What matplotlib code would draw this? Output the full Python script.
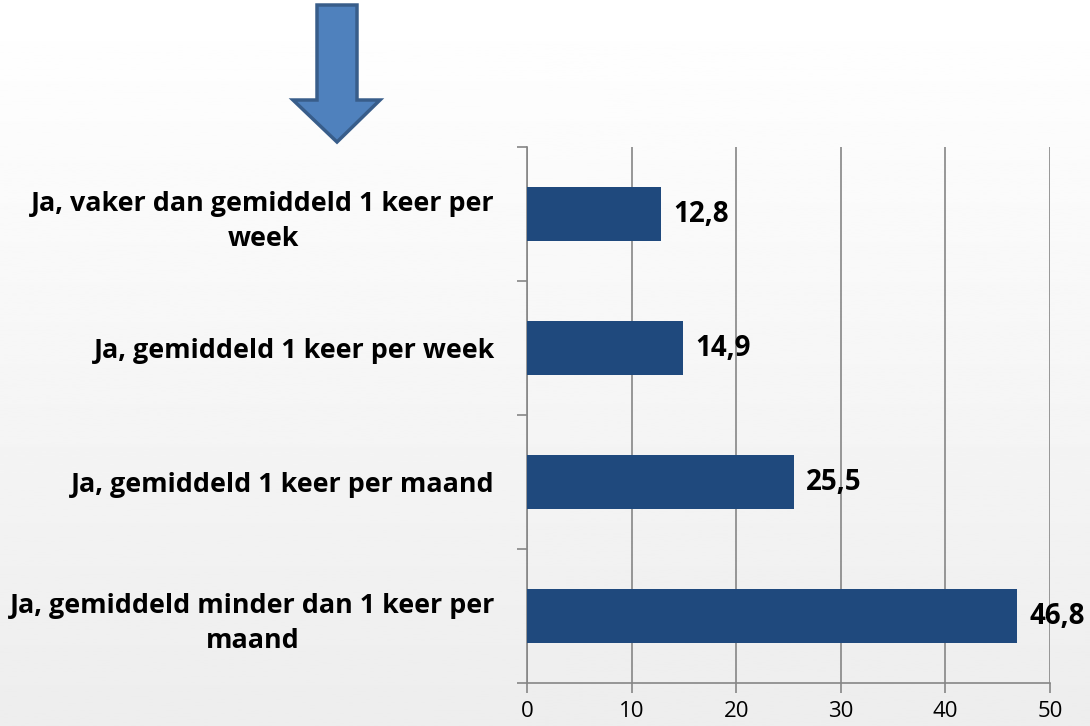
import matplotlib.pyplot as plt
import numpy as np
from matplotlib.patches import Polygon

# data (top to bottom as shown)
categories = ['Ja, vaker dan gemiddeld 1 keer per\nweek',
              'Ja, gemiddeld 1 keer per week',
              'Ja, gemiddeld 1 keer per maand',
              'Ja, gemiddeld minder dan 1 keer per\nmaand']
values = [12.8, 14.9, 25.5, 46.8]
value_labels = ['12,8', '14,9', '25,5', '46,8']
x_ticks = [0, 10, 20, 30, 40, 50]

plt.rcParams['font.family'] = ['Open Sans', 'DejaVu Sans']

fig = plt.figure(figsize=(10.9, 7.26), dpi=100)

# background gradient
bg = fig.add_axes([0, 0, 1, 1], zorder=-10)
grad = np.linspace(1.0, 0.93, 256).reshape(-1, 1)
bg.imshow(grad, cmap='gray', vmin=0, vmax=1, aspect='auto', extent=[0, 1, 0, 1])
bg.axis('off')

ax = fig.add_axes([527 / 1090, 1 - 683 / 726, 523 / 1090, 536 / 726])
ax.patch.set_alpha(0)

y = np.arange(len(categories))
ax.barh(y, values, height=0.4, color='#1F497D', zorder=3)

for yi, v, lab in zip(y, values, value_labels):
    ax.annotate(lab, (v, yi), xytext=(9, 0), textcoords='offset points',
                va='center', ha='left', fontsize=20, fontweight='bold', color='black')

ax.set_ylim(len(categories) - 0.5, -0.5)
ax.set_xlim(0, 50)
ax.set_xticks(x_ticks)
ax.set_xticklabels([str(t) for t in x_ticks], fontsize=16)
ax.set_yticks(y)
ax.set_yticklabels(categories, fontsize=19.4, fontweight='bold', linespacing=1.45)
for lbl in ax.get_yticklabels():
    lbl.set_multialignment('center')
ax.tick_params(axis='y', which='major', length=0, pad=23)
ax.set_yticks(np.arange(-0.5, len(categories), 1.0), minor=True)
ax.tick_params(axis='y', which='minor', length=7, color='#868686', width=1.2, direction='out')
ax.tick_params(axis='x', length=7, color='#868686', width=1.2, direction='out', pad=6)

ax.grid(axis='x', color='#868686', linewidth=1.2, zorder=0)
for s in ['top', 'right']:
    ax.spines[s].set_visible(False)
for s in ['left', 'bottom']:
    ax.spines[s].set_color('#868686')
    ax.spines[s].set_linewidth(1.2)

# blue down arrow (decoration, figure pixel coords)
arrow_px = np.array([(317, 721), (357, 721), (357, 626), (380, 626), (337, 584),
                     (293, 626), (317, 626)])
fig.patches.append(Polygon(arrow_px / np.array([1090, 726]), closed=True,
                           transform=fig.transFigure,
                           facecolor='#4F81BD', edgecolor='#385D8A', linewidth=2.5))

fig.savefig('out.png', dpi=100)
